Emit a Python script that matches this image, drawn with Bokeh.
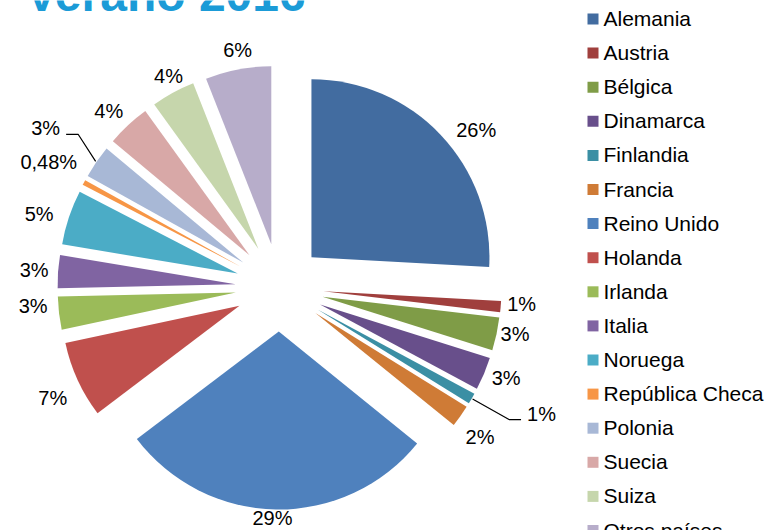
import numpy as np
from bokeh.plotting import figure
from bokeh.models import Range1d, ColumnDataSource
from bokeh.core.properties import value
from bokeh.embed import file_html
from bokeh.resources import INLINE

# ---------------- data ----------------
title = "Verano 2016"
countries = ["Alemania", "Austria", "Bélgica", "Dinamarca", "Finlandia", "Francia",
             "Reino Unido", "Holanda", "Irlanda", "Italia", "Noruega",
             "República Checa", "Polonia", "Suecia", "Suiza", "Otros países"]
shares = [26, 1, 3, 3, 1, 2, 29, 7, 3, 3, 5, 0.48, 3, 4, 4, 6]
labels = ["26%", "1%", "3%", "3%", "1%", "2%", "29%", "7%", "3%", "3%", "5%",
          "0,48%", "3%", "4%", "4%", "6%"]
colors = ["#426CA0", "#A03F3D", "#7F9C47", "#684F8B", "#3B8FA4", "#CF7B36",
          "#4F81BD", "#C0504D", "#9BBB59", "#8064A2", "#4BACC6", "#F79646",
          "#A8B8D6", "#D8A8A7", "#C6D6AC", "#B7ADCA"]

# ---------------- layout ----------------
W, H = 767, 530
FONT = "Liberation Sans"


def Y(py):
    """screen pixel row -> data y (data y grows upward)"""
    return H - py


p = figure(width=W, height=H, x_range=Range1d(0, W), y_range=Range1d(0, H),
           output_backend="svg", toolbar_location=None, min_border=0,
           x_axis_location=None, y_axis_location=None, title=None)
p.grid.visible = False
p.outline_line_color = None
p.background_fill_color = "white"
p.border_fill_color = "white"

# pie geometry (pixels)
CX, CY = 279, Y(287)
R = 178
EXPL = 44

vals = np.array(shares, dtype=float)
frac = vals / vals.sum()
cum1 = np.cumsum(frac)
cum0 = cum1 - frac
th0 = 2 * np.pi * cum0          # clockwise from 12 o'clock
th1 = 2 * np.pi * cum1
thm = (th0 + th1) / 2
ux, uy = np.sin(thm), np.cos(thm)   # data direction (y up)

sx = CX + EXPL * ux
sy = CY + EXPL * uy

src = ColumnDataSource(dict(x=sx, y=sy, start=np.pi / 2 - th1, end=np.pi / 2 - th0,
                            color=colors))
p.wedge(x="x", y="y", radius=R, start_angle="start", end_angle="end",
        fill_color="color", line_color=None, source=src)

# ---------------- data labels ----------------
LFS = 20
CW = {"%": 0.889, ",": 0.278}


def text_w(s, fs):
    return sum(CW.get(c, 0.556) for c in s) * fs


K = 24   # distance of label centre beyond the arc
# fine placement of each label, in screen pixels (dx right, dy down)
nudge = {0: (18, 12), 1: (-3, -5), 2: (-5, -5), 3: (0, -5), 5: (0, 7),
         6: (-3, -15), 7: (-3, 8), 8: (-2, -10), 10: (-7, 4), 11: (-14, -9),
         13: (-3, 3), 14: (7, 4), 15: (4, 4)}
# labels dragged away from their slice, joined by a leader line
moved = {4: (49, 3), 12: (-31, -20)}

lx, ly = [], []
for i in range(len(labels)):
    dx, dy = nudge.get(i, moved.get(i, (0, 0)))
    lx.append(sx[i] + (R + K) * ux[i] + dx)
    ly.append(sy[i] + (R + K) * uy[i] - dy)

lead_xs, lead_ys = [], []
for i, (dx, dy) in moved.items():
    hw = text_w(labels[i], LFS) / 2
    x0 = sx[i] + (R + 1) * ux[i]
    y0 = sy[i] + (R + 1) * uy[i]
    side = 1 if dx > 0 else -1
    ex = lx[i] - side * (hw + 6)
    ey = ly[i] - 6
    bx = ex - side * 12
    lead_xs.append([x0, bx, ex])
    lead_ys.append([y0, ey, ey])

p.multi_line(xs=lead_xs, ys=lead_ys, line_color="black", line_width=1.2)
p.text(x=lx, y=ly, text=labels, text_font=value(FONT), text_font_size=f"{LFS}px",
       text_align="center", text_baseline="middle", text_color="black")

# ---------------- legend ----------------
n = len(countries)
rows = np.arange(n)
STEP = 34.1
p.rect(x=[592.5] * n, y=[Y(18.5 + STEP * r) for r in rows], width=11, height=11,
       fill_color=colors, line_color=None)
p.text(x=[603] * n, y=[Y(18 + STEP * r) for r in rows], text=countries,
       text_font=value(FONT), text_font_size="21px", text_align="left",
       text_baseline="middle", text_color="black")

# ---------------- title (cut off at the top, as in the original) ----------------
TFS = 48
p.text(x=[25], y=[Y(10.5 - 0.3465 * TFS)], text=[title], text_font=value(FONT),
       text_font_size=f"{TFS}px", text_font_style="bold", text_align="left",
       text_baseline="middle", text_color="#1B9BD7")

open("out.html", "w").write(file_html(p, INLINE))
